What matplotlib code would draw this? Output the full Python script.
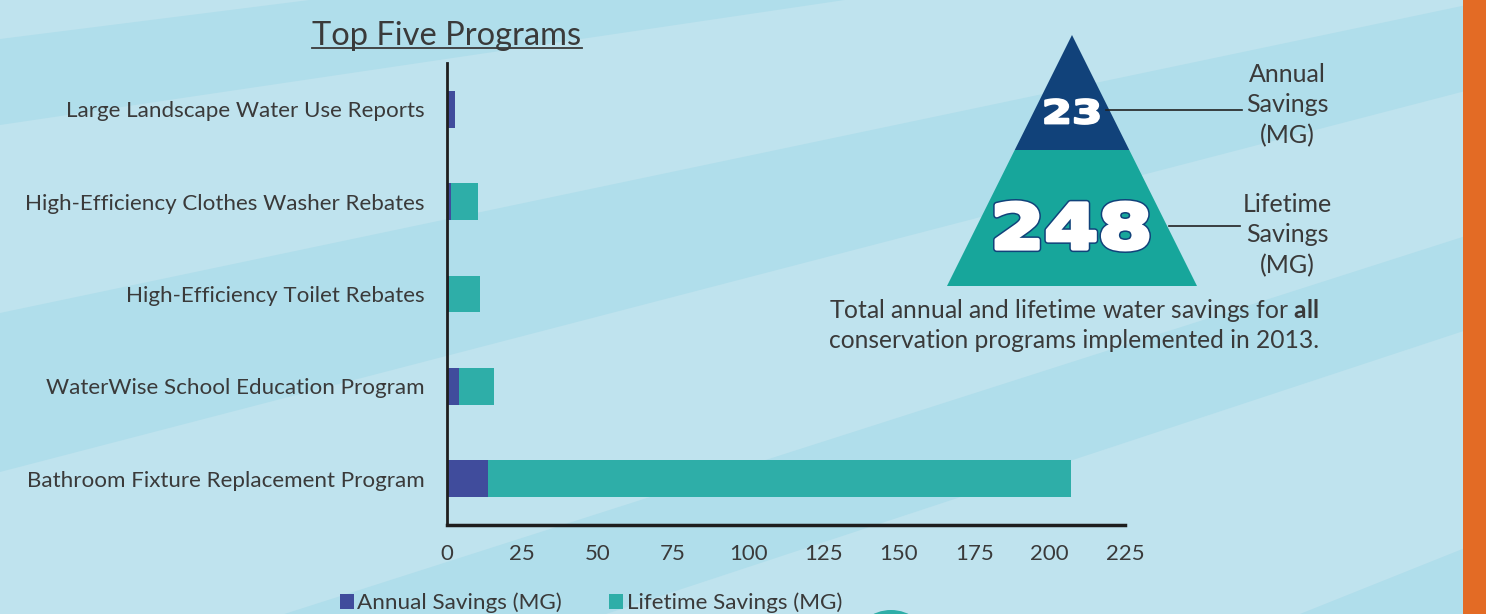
import matplotlib

matplotlib.use("Agg")
import matplotlib.pyplot as plt
import numpy as np
from matplotlib.font_manager import FontProperties
from matplotlib.patches import Ellipse, PathPatch, Polygon, Rectangle
from matplotlib.textpath import TextPath
from matplotlib.transforms import Affine2D

PROGRAMS = [
    "Large Landscape Water Use Reports",
    "High-Efficiency Clothes Washer Rebates",
    "High-Efficiency Toilet Rebates",
    "WaterWise School Education Program",
    "Bathroom Fixture Replacement Program",
]
ANNUAL_MG = [2.5, 1.3, 0.8, 4.1, 13.6]
LIFETIME_MG = [2.5, 10.4, 10.8, 15.6, 207]
X_TICKS = [0, 25, 50, 75, 100, 125, 150, 175, 200, 225]
TOTAL_ANNUAL = 23
TOTAL_LIFETIME = 248

BLUE = "#404c9c"
TEAL = "#2eaea8"
NAVY = "#11427a"
PYR_TEAL = "#17a69b"
LIGHT = "#bfe3ee"
DARK = "#b0deeb"
ORANGE = "#e36b25"
TEXT = "#3a3a3a"

W, H = 1486, 614

plt.rcParams["font.family"] = ["Lato", "DejaVu Sans"]
plt.rcParams["mathtext.fontset"] = "custom"
plt.rcParams["mathtext.rm"] = "Lato"
plt.rcParams["mathtext.bf"] = "Lato:bold"

fig = plt.figure(figsize=(W / 100, H / 100), dpi=100)

# background with the fan of light/dark stripes
bg = fig.add_axes([0, 0, 1, 1], zorder=0)
bg.set_xlim(0, W)
bg.set_ylim(H, 0)
bg.axis("off")
bg.add_patch(Rectangle((0, 0), W, H, color=LIGHT, lw=0))
xs = np.array([0, W])
rays = [(39, -0.126), (125, -0.148), (313, -0.21), (472, -0.26),
        (705, -0.32), (814, -0.33), (1134, -0.4), (3000, 0.0)]
for (a0, s0), (a1, s1) in zip(rays[0::2], rays[1::2]):
    bg.fill_between(xs, a0 + s0 * xs, a1 + s1 * xs, color=DARK, lw=0)

# bar chart
ax = fig.add_axes([447 / W, 1 - 525 / H, (1125 - 447) / W, (525 - 63) / H], zorder=2)
ax.patch.set_alpha(0)
y = np.arange(len(PROGRAMS))
lt = ax.barh(y, LIFETIME_MG, height=0.4, color=TEAL, lw=0, label="Lifetime Savings (MG)")
an = ax.barh(y, ANNUAL_MG, height=0.4, color=BLUE, lw=0, label="Annual Savings (MG)")
ax.set_xlim(0, 225)
ax.set_ylim(len(PROGRAMS) - 0.5, -0.5)
ax.set_xticks(X_TICKS)
ax.set_yticks(y, PROGRAMS)
ax.tick_params(length=0, labelcolor=TEXT)
ax.tick_params(axis="x", pad=14, labelsize=16)
ax.tick_params(axis="y", pad=16, labelsize=16.1)
for side in ("top", "right"):
    ax.spines[side].set_visible(False)
for side in ("left", "bottom"):
    ax.spines[side].set_color("#1e1e1e")
ax.spines["left"].set_linewidth(2)
ax.spines["bottom"].set_linewidth(2.5)

fig.legend(handles=[an, lt], loc="center", bbox_to_anchor=(591 / W, 1 - 603 / H), ncol=2,
           frameon=False, handlelength=0.62, handleheight=0.62, handletextpad=0.15,
           columnspacing=2.1, fontsize=16.2, labelcolor=TEXT)

# overlay: title, pyramid, notes
ov = fig.add_axes([0, 0, 1, 1], zorder=3)
ov.set_xlim(0, W)
ov.set_ylim(H, 0)
ov.axis("off")
ov.patch.set_alpha(0)

title = ov.text(447, 45, "Top Five Programs", fontsize=23.5, color=TEXT, ha="center", va="baseline")

apex, base_y, half_base = (1072, 35), 286, 125
split_y = 150
half_split = half_base * (split_y - apex[1]) / (base_y - apex[1])
ov.add_patch(Polygon([apex, (apex[0] - half_split, split_y), (apex[0] + half_split, split_y)],
                     closed=True, color=NAVY, lw=0))
ov.add_patch(Polygon([(apex[0] - half_split, split_y), (apex[0] + half_split, split_y),
                      (apex[0] + half_base, base_y), (apex[0] - half_base, base_y)],
                     closed=True, color=PYR_TEAL, lw=0))


def big_number(value, cx, top, bottom, width, grow, rim):
    # heavy white digits with a navy rim, fitted into a box
    tp = TextPath((0, 0), str(value), size=1, prop=FontProperties(family="DejaVu Sans", weight="bold"))
    ext = tp.get_extents()
    pad = (grow + rim) / 2 * 100 / 72
    sx = (width - 2 * pad) / ext.width
    sy = (bottom - top - 2 * pad) / ext.height
    tr = Affine2D().translate(-ext.x0 - ext.width / 2, -ext.y0).scale(sx, -sy).translate(cx, bottom - pad)
    path = tr.transform_path(tp)
    ov.add_patch(PathPatch(path, facecolor=NAVY, edgecolor=NAVY, lw=grow + rim, joinstyle="round"))
    ov.add_patch(PathPatch(path, facecolor="white", edgecolor="white", lw=grow, joinstyle="round"))


big_number(TOTAL_ANNUAL, apex[0], 97, 126, 58, 1.6, 1.6)
big_number(TOTAL_LIFETIME, apex[0], 199, 253, 158, 3.0, 2.2)

ov.plot([1106, 1242], [110, 110], color="#222222", lw=1.2)
ov.plot([1169, 1240], [226, 226], color="#222222", lw=1.2)
ov.text(1287, 105, "Annual\nSavings\n(MG)", fontsize=18, color=TEXT, ha="center", va="center",
        linespacing=1.38)
ov.text(1287, 235, "Lifetime\nSavings\n(MG)", fontsize=18, color=TEXT, ha="center", va="center",
        linespacing=1.38)
ov.text(1074, 311, r"Total annual and lifetime water savings for $\mathbf{all}$", fontsize=17.7,
        color=TEXT, ha="center", va="center")
ov.text(1074, 340, "conservation programs implemented in 2013.", fontsize=17.7, color=TEXT,
        ha="center", va="center")

ov.add_patch(Rectangle((1463, 0), W - 1463, H, color=ORANGE, lw=0))
ov.add_patch(Ellipse((891, 640), 70, 60, color=TEAL, lw=0))

# underline the title
fig.canvas.draw()
bb = title.get_window_extent()
inv = ov.transData.inverted()
x0, _ = inv.transform((bb.x0, bb.y0))
x1, _ = inv.transform((bb.x1, bb.y0))
ov.plot([x0, x1], [48, 48], color=TEXT, lw=1.3)

fig.savefig("out.png", dpi=100)
